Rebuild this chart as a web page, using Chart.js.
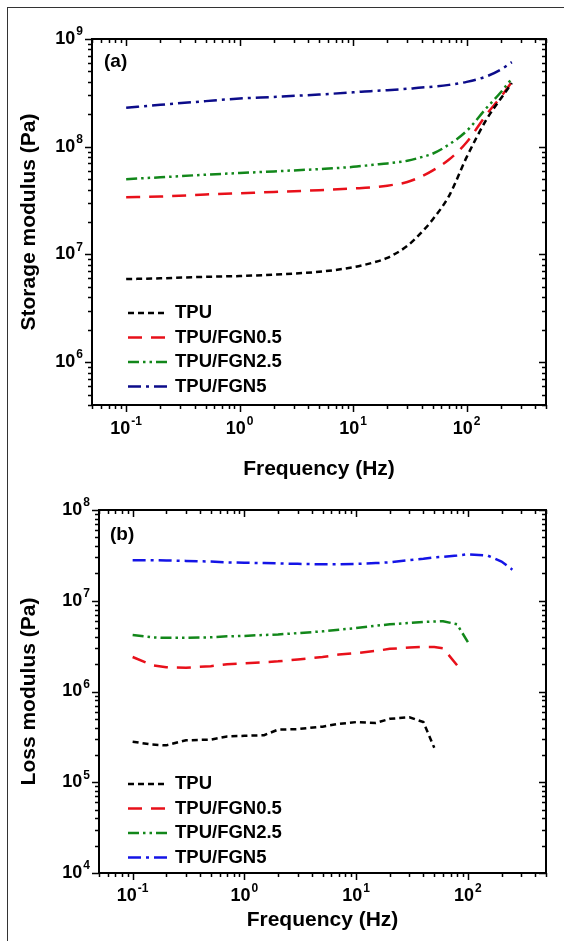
<!DOCTYPE html>
<html>
<head>
<meta charset="utf-8">
<script src="https://cdn.jsdelivr.net/npm/chart.js@4.4.0/dist/chart.umd.min.js"></script>
<style>
    html, body { margin: 0; padding: 0; background: #fff; }
    #wrap { position: relative; width: 564px; height: 941px; overflow: hidden; }
    #frame { position: absolute; left: 7px; top: 7px; width: 700px; height: 1100px;
             border-left: 1.5px solid #333; border-top: 1.5px solid #333; }
    canvas { position: absolute; left: 0; }
</style>
</head>
<body>
<div id="wrap">
    <div id="frame"></div>
    <canvas id="chartA" width="564" height="500" style="top:0"></canvas>
    <canvas id="chartB" width="564" height="471" style="top:470px"></canvas>
</div>
<script>
const seriesNames = ['TPU', 'TPU/FGN0.5', 'TPU/FGN2.5', 'TPU/FGN5'];

// (a) storage modulus, Pa
const freqA = [0.1, 0.2, 0.5, 1, 2, 5, 10, 15, 20, 30, 40, 50, 70, 100, 150, 200, 250];
const storageTPU   = [5.9e6, 6.0e6, 6.2e6, 6.3e6, 6.5e6, 6.9e6, 7.6e6, 8.4e6, 9.3e6, 1.2e7, 1.6e7, 2.1e7, 3.5e7, 8.0e7, 1.8e8, 2.8e8, 3.9e8];
const storageFGN05 = [3.4e7, 3.45e7, 3.6e7, 3.7e7, 3.8e7, 3.95e7, 4.1e7, 4.2e7, 4.35e7, 4.7e7, 5.3e7, 6.0e7, 7.6e7, 1.1e8, 2.0e8, 2.9e8, 4.0e8];
const storageFGN25 = [5.0e7, 5.2e7, 5.5e7, 5.7e7, 5.9e7, 6.2e7, 6.5e7, 6.8e7, 7.0e7, 7.4e7, 8.0e7, 8.6e7, 1.05e8, 1.4e8, 2.3e8, 3.2e8, 4.3e8];
const storageFGN5  = [2.3e8, 2.45e8, 2.65e8, 2.8e8, 2.9e8, 3.05e8, 3.2e8, 3.3e8, 3.35e8, 3.45e8, 3.55e8, 3.6e8, 3.75e8, 4.0e8, 4.5e8, 5.2e8, 6.1e8];

// (b) loss modulus, Pa (null = no measurement)
const freqB = [0.1, 0.15, 0.2, 0.3, 0.5, 0.7, 1, 1.5, 2, 3, 5, 7, 10, 15, 20, 30, 40, 50, 60, 80, 100, 150, 200, 250];
const lossTPU   = [2.8e5, 2.6e5, 2.55e5, 2.9e5, 2.95e5, 3.2e5, 3.25e5, 3.3e5, 3.8e5, 3.85e5, 4.1e5, 4.4e5, 4.6e5, 4.5e5, 5.0e5, 5.2e5, 4.6e5, 2.4e5, null, null, null, null, null, null];
const lossFGN05 = [2.4e6, 1.95e6, 1.85e6, 1.83e6, 1.9e6, 2.0e6, 2.05e6, 2.1e6, 2.15e6, 2.25e6, 2.4e6, 2.55e6, 2.65e6, 2.8e6, 2.95e6, 3.05e6, 3.1e6, 3.1e6, 3.0e6, 1.95e6, null, null, null, null];
const lossFGN25 = [4.2e6, 3.95e6, 3.9e6, 3.9e6, 3.95e6, 4.05e6, 4.1e6, 4.2e6, 4.25e6, 4.4e6, 4.6e6, 4.8e6, 5.0e6, 5.3e6, 5.5e6, 5.7e6, 5.85e6, 5.9e6, 5.95e6, 5.5e6, 3.5e6, null, null, null];
const lossFGN5  = [2.8e7, 2.8e7, 2.78e7, 2.75e7, 2.7e7, 2.65e7, 2.62e7, 2.6e7, 2.58e7, 2.55e7, 2.52e7, 2.52e7, 2.55e7, 2.6e7, 2.65e7, 2.8e7, 2.9e7, 3.0e7, 3.05e7, 3.15e7, 3.25e7, 3.15e7, 2.7e7, 2.2e7];

const FONT = '"Liberation Sans", Arial, sans-serif';

const styles = [
    { color: '#000000', dash: [6, 4] },
    { color: '#e8101a', dash: [14, 9] },
    { color: '#12871a', dash: [11, 4, 2.5, 4, 2.5, 4] },
    { color: '#0c0c8a', dash: [13, 5, 3, 5] }
];

function toPoints(freq, vals) {
    return freq.map((f, i) => ({ x: f, y: vals[i] })).filter(p => p.y !== null);
}

function logTicks(min, max) {
    const out = [];
    for (let e = Math.floor(Math.log10(min)); e <= Math.ceil(Math.log10(max)); e++) {
        for (let m = 1; m <= 9; m++) {
            const v = m * Math.pow(10, e);
            if (v >= min * 0.999 && v <= max * 1.001) out.push({ v: v, e: e, major: m === 1 });
        }
    }
    return out;
}

function drawPow(ctx, e, x, y, align) {
    ctx.font = 'bold 18px ' + FONT;
    const wb = ctx.measureText('10').width;
    ctx.font = 'bold 12px ' + FONT;
    const sup = String(e);
    const we = ctx.measureText(sup).width;
    const total = wb + 1 + we;
    const x0 = align === 'right' ? x - total : x - total / 2;
    ctx.textAlign = 'left';
    ctx.textBaseline = 'middle';
    ctx.font = 'bold 18px ' + FONT;
    ctx.fillText('10', x0, y);
    ctx.font = 'bold 12px ' + FONT;
    ctx.fillText(sup, x0 + wb + 1, y - 7);
}

const originAxes = {
    id: 'originAxes',
    afterDraw(chart, args, o) {
        const ctx = chart.ctx;
        const { left, right, top, bottom } = chart.chartArea;
        const xs = chart.scales.x, ys = chart.scales.y;
        ctx.save();
        ctx.fillStyle = '#000';
        ctx.strokeStyle = '#000';

        // ticks: out on left/bottom, in on top/right
        ctx.lineWidth = 1.5;
        ctx.setLineDash([]);
        ctx.beginPath();
        logTicks(xs.min, xs.max).forEach(t => {
            const px = Math.round(xs.getPixelForValue(t.v)) + 0.5;
            const len = t.major ? 7 : 4;
            ctx.moveTo(px, bottom); ctx.lineTo(px, bottom + len);
            ctx.moveTo(px, top); ctx.lineTo(px, top + len);
        });
        logTicks(ys.min, ys.max).forEach(t => {
            const py = Math.round(ys.getPixelForValue(t.v)) + 0.5;
            const len = t.major ? 7 : 4;
            ctx.moveTo(left, py); ctx.lineTo(left - len, py);
            ctx.moveTo(right, py); ctx.lineTo(right - len, py);
        });
        ctx.stroke();

        ctx.lineWidth = 2;
        ctx.strokeRect(left, top, right - left, bottom - top);

        // tick labels
        logTicks(xs.min, xs.max).filter(t => t.major).forEach(t => {
            drawPow(ctx, t.e, xs.getPixelForValue(t.v), bottom + o.xLabelGap, 'center');
        });
        logTicks(ys.min, ys.max).filter(t => t.major).forEach(t => {
            drawPow(ctx, t.e, left - 9, ys.getPixelForValue(t.v), 'right');
        });

        // axis titles
        ctx.font = 'bold 21px ' + FONT;
        ctx.textAlign = 'center';
        ctx.textBaseline = 'middle';
        ctx.fillText(o.xTitle, (left + right) / 2, bottom + o.xTitleGap);
        ctx.save();
        ctx.translate(o.yTitleX, (top + bottom) / 2);
        ctx.rotate(-Math.PI / 2);
        ctx.fillText(o.yTitle, 0, 0);
        ctx.restore();

        // panel tag
        ctx.font = 'bold 19px ' + FONT;
        ctx.textAlign = 'left';
        ctx.fillText(o.tag, o.tagX, o.tagY);

        // legend
        chart.data.datasets.forEach((ds, i) => {
            const y = o.legendY + i * o.legendRow;
            ctx.strokeStyle = ds.borderColor;
            ctx.lineWidth = ds.borderWidth;
            ctx.setLineDash(ds.borderDash);
            ctx.beginPath();
            ctx.moveTo(128, y);
            ctx.lineTo(167, y);
            ctx.stroke();
            ctx.setLineDash([]);
            ctx.fillStyle = '#000';
            ctx.font = 'bold 18.5px ' + FONT;
            ctx.fillText(ds.label, 175, y);
        });
        ctx.restore();
    }
};

function makeDatasets(freq, lists, colors, tension) {
    return lists.map((vals, i) => ({
        label: seriesNames[i],
        data: toPoints(freq, vals),
        borderColor: colors[i],
        borderWidth: 2.5,
        borderDash: styles[i].dash,
        borderCapStyle: 'butt',
        pointRadius: 0,
        fill: false,
        tension: tension,
        cubicInterpolationMode: tension ? 'monotone' : 'default'
    }));
}

function makeChart(id, datasets, yMin, yMax, padding, axesOpts) {
    return new Chart(document.getElementById(id).getContext('2d'), {
        type: 'line',
        data: { datasets: datasets },
        plugins: [originAxes],
        options: {
            responsive: false,
            animation: false,
            devicePixelRatio: 1,
            layout: { padding: padding },
            plugins: {
                legend: { display: false },
                tooltip: { enabled: false },
                originAxes: axesOpts
            },
            scales: {
                x: { type: 'logarithmic', min: 0.05, max: 500, display: false },
                y: { type: 'logarithmic', min: yMin, max: yMax, display: false }
            }
        }
    });
}

const colorsA = styles.map(s => s.color);
const colorsB = ['#000000', '#e8101a', '#12871a', '#1414e6'];

makeChart('chartA',
    makeDatasets(freqA, [storageTPU, storageFGN05, storageFGN25, storageFGN5], colorsA, 0.4),
    4e5, 1e9,
    { left: 92, top: 39, right: 18, bottom: 95 },
    { xTitle: 'Frequency (Hz)', yTitle: 'Storage modulus (Pa)', yTitleX: 29,
      xLabelGap: 24, xTitleGap: 64, tag: '(a)', tagX: 104, tagY: 62,
      legendY: 313, legendRow: 24.5 });

makeChart('chartB',
    makeDatasets(freqB, [lossTPU, lossFGN05, lossFGN25, lossFGN5], colorsB, 0),
    1e4, 1e8,
    { left: 99, top: 40, right: 18, bottom: 68 },
    { xTitle: 'Frequency (Hz)', yTitle: 'Loss modulus (Pa)', yTitleX: 29,
      xLabelGap: 23, xTitleGap: 47, tag: '(b)', tagX: 110, tagY: 65,
      legendY: 314, legendRow: 24.5 });
</script>
</body>
</html>
